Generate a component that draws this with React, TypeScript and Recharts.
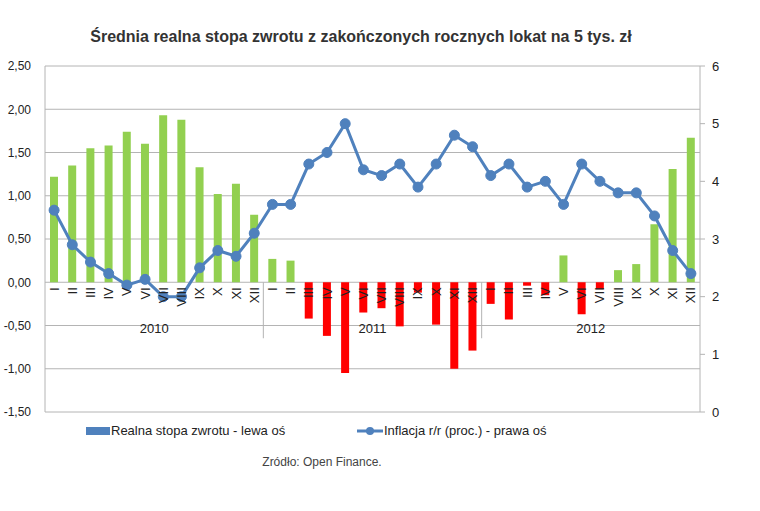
import React from 'react';
import { ComposedChart, Bar, Line, XAxis, YAxis, CartesianGrid, Cell } from 'recharts';

const years = ['2010', '2011', '2012'];
const months = ['I', 'II', 'III', 'IV', 'V', 'VI', 'VII', 'VIII', 'IX', 'X', 'XI', 'XII'];

const realReturn = [
  1.22, 1.35, 1.55, 1.58, 1.74, 1.60, 1.93, 1.88, 1.33, 1.02, 1.14, 0.78,
  0.27, 0.25, -0.42, -0.62, -1.05, -0.35, -0.30, -0.51, -0.12, -0.49, -1.00, -0.79,
  -0.25, -0.43, -0.04, -0.15, 0.31, -0.37, -0.08, 0.14, 0.21, 0.67, 1.31, 1.67,
];

const inflation = [
  3.5, 2.9, 2.6, 2.4, 2.2, 2.3, 2.0, 2.0, 2.5, 2.8, 2.7, 3.1,
  3.6, 3.6, 4.3, 4.5, 5.0, 4.2, 4.1, 4.3, 3.9, 4.3, 4.8, 4.6,
  4.1, 4.3, 3.9, 4.0, 3.6, 4.3, 4.0, 3.8, 3.8, 3.4, 2.8, 2.4,
];

const leftTicks = [-1.5, -1.0, -0.5, 0, 0.5, 1.0, 1.5, 2.0, 2.5];
const rightTicks = [0, 1, 2, 3, 4, 5, 6];

const data = years.flatMap((y, yi) =>
  months.map((m, mi) => ({
    key: `${y}-${m}`,
    month: m,
    year: y,
    real: realReturn[yi * 12 + mi],
    inflation: inflation[yi * 12 + mi],
  }))
);

const CHART_W = 760;
const CHART_H = 420;
const MARGIN_TOP = 66;
const LEFT_W = 45;
const RIGHT_W = 60;
const XAXIS_H = 8;
const PLOT_TOP = MARGIN_TOP;
const PLOT_H = CHART_H - MARGIN_TOP - XAXIS_H;
const PLOT_W = CHART_W - LEFT_W - RIGHT_W;
const LEFT_MIN = -1.5;
const LEFT_MAX = 2.5;
const ZERO_Y = PLOT_TOP + (PLOT_H * LEFT_MAX) / (LEFT_MAX - LEFT_MIN);
const BAND = PLOT_W / data.length;

const FONT = '"Liberation Sans", Arial, sans-serif';
const GREEN = '#92D050';
const RED = '#FF0000';
const BLUE = '#4F81BD';
const GRID = '#b4b4b4';

const CategoryTick = (props: any) => {
  const { x, payload, index } = props;
  const d = data[index];
  const label = d ? d.month : payload.value;
  const mi = index % 12;
  return (
    <g>
      <g transform={`translate(${x},${ZERO_Y})`}>
        <text
          transform="rotate(-90)"
          x={-5}
          y={4.5}
          textAnchor="end"
          fontSize={13}
          fontFamily={FONT}
          fill="#222"
        >
          {label}
        </text>
      </g>
      {mi === 5 && d ? (
        <text
          x={x + BAND / 2}
          y={ZERO_Y + 51}
          textAnchor="middle"
          fontSize={13}
          fontFamily={FONT}
          fill="#222"
        >
          {d.year}
        </text>
      ) : null}
      {mi === 11 && index < data.length - 1 ? (
        <line
          x1={x + BAND / 2}
          x2={x + BAND / 2}
          y1={ZERO_Y}
          y2={ZERO_Y + 56}
          stroke={GRID}
          strokeWidth={1}
        />
      ) : null}
    </g>
  );
};

const fmtLeft = (v: number) => v.toFixed(2).replace('.', ',');

export default function App() {
  return (
    <div
      style={{
        position: 'absolute',
        left: 0,
        top: 0,
        width: 760,
        height: 511,
        background: '#fff',
        fontFamily: FONT,
        overflow: 'hidden',
      }}
    >
      <div
        style={{
          position: 'absolute',
          left: 0,
          top: 28,
          width: 722,
          textAlign: 'center',
          fontWeight: 'bold',
          fontSize: 16,
          color: '#333',
          whiteSpace: 'nowrap',
        }}
      >
        Średnia realna stopa zwrotu z zakończonych rocznych lokat na 5 tys. zł
      </div>
      <div style={{ position: 'absolute', left: 0, top: 0 }}>
        <ComposedChart
          width={CHART_W}
          height={CHART_H}
          data={data}
          margin={{ top: MARGIN_TOP, right: 0, left: 0, bottom: 0 }}
          barCategoryGap={0}
        >
          <CartesianGrid yAxisId="left" vertical={false} stroke={GRID} strokeWidth={1} />
          <YAxis
            yAxisId="left"
            orientation="left"
            width={LEFT_W}
            domain={[LEFT_MIN, LEFT_MAX]}
            ticks={leftTicks}
            tickFormatter={fmtLeft}
            axisLine={{ stroke: GRID }}
            tickLine={false}
            tickSize={0}
            tickMargin={14}
            tick={{ fontSize: 12, fill: '#222', fontFamily: FONT }}
            allowDataOverflow
          />
          <YAxis
            yAxisId="right"
            orientation="right"
            width={RIGHT_W}
            domain={[0, 6]}
            ticks={rightTicks}
            axisLine={{ stroke: GRID }}
            tickLine={{ stroke: GRID }}
            tickSize={5}
            tickMargin={7}
            tick={{ fontSize: 13, fill: '#222', fontFamily: FONT, textAnchor: 'start' }}
          />
          <Bar yAxisId="left" dataKey="real" barSize={8} isAnimationActive={false}>
            {data.map((d) => (
              <Cell key={d.key} fill={d.real >= 0 ? GREEN : RED} />
            ))}
          </Bar>
          <XAxis
            dataKey="key"
            height={XAXIS_H}
            interval={0}
            axisLine={false}
            tickLine={false}
            tick={<CategoryTick />}
          />
          <Line
            yAxisId="right"
            dataKey="inflation"
            stroke={BLUE}
            strokeWidth={3}
            dot={{ r: 5, fill: BLUE, stroke: BLUE, strokeWidth: 1 }}
            isAnimationActive={false}
          />
        </ComposedChart>
      </div>
      <div style={{ position: 'absolute', left: 86, top: 427, width: 24, height: 8, background: BLUE }} />
      <div
        style={{
          position: 'absolute',
          left: 111,
          top: 423,
          fontSize: 13,
          color: '#222',
          lineHeight: '16px',
          whiteSpace: 'nowrap',
        }}
      >
        Realna stopa zwrotu - lewa oś
      </div>
      <svg style={{ position: 'absolute', left: 355, top: 424 }} width={30} height={14}>
        <line x1={2} x2={28} y1={7} y2={7} stroke={BLUE} strokeWidth={3} />
        <circle cx={15} cy={7} r={4} fill={BLUE} />
      </svg>
      <div
        style={{
          position: 'absolute',
          left: 384,
          top: 423,
          fontSize: 13,
          color: '#222',
          lineHeight: '16px',
          whiteSpace: 'nowrap',
        }}
      >
        Inflacja r/r (proc.) - prawa oś
      </div>
      <div
        style={{
          position: 'absolute',
          left: 0,
          top: 455,
          width: 644,
          textAlign: 'center',
          fontSize: 12,
          color: '#444',
          lineHeight: '14px',
          whiteSpace: 'nowrap',
        }}
      >
        Zródło: Open Finance.
      </div>
    </div>
  );
}
